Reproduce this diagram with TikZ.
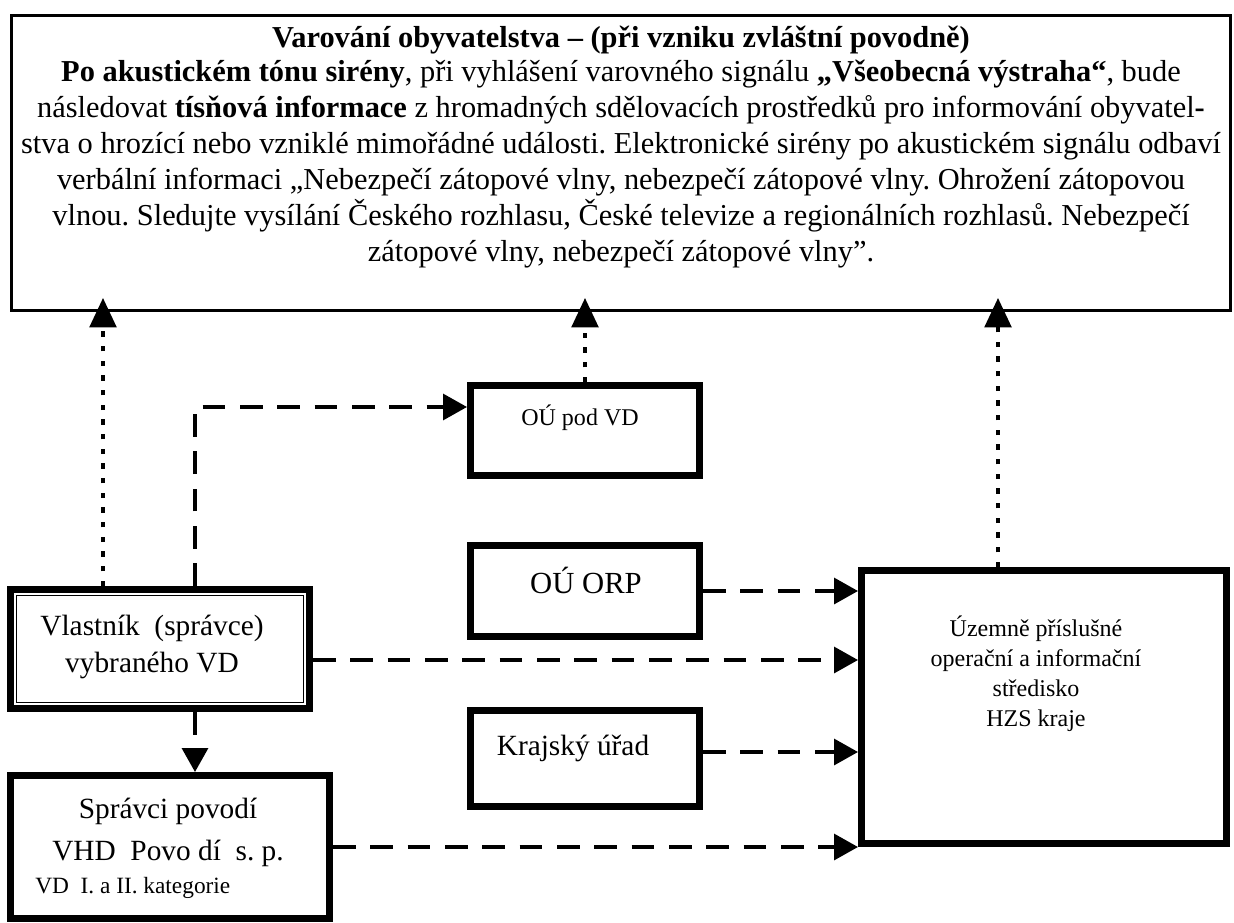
\documentclass[tikz,border=0pt]{standalone}
\usepackage{fontspec}
\setmainfont{Liberation Serif}
\usetikzlibrary{arrows.meta}

\tikzset{
  box/.style={draw, line width=5.25pt, inner sep=0pt},
  txt/.style={inner sep=0pt, align=center, font=\fontsize{22}{28}\selectfont},
  dashline/.style={line width=2.5pt, dash pattern=on 17pt off 11pt, -{Triangle[length=18pt,width=19.5pt]}},
  dotline/.style={line width=2.5pt, dash pattern=on 4pt off 7pt, -{Triangle[length=22pt,width=20pt]}, shorten >=-10.5pt},
}

\begin{document}
\frenchspacing
\begin{tikzpicture}[x=0.75pt,y=0.75pt,yscale=-1,xscale=1]
\useasboundingbox (0,0) rectangle (1234,923);

%Boxes
\node[box, line width=2.25pt, minimum width=914.25pt, minimum height=221.25pt] (top) at (621,163) {};
\node[box, minimum width=224.25pt, minimum height=89.25pt] (vlast) at (160,649) {};
\draw[line width=1.2pt] ([shift={(9.5,9.5)}]vlast.north west) rectangle ([shift={(-9.5,-9.5)}]vlast.south east);
\node[box, minimum width=239.25pt, minimum height=107.25pt] (spravci) at (170,847) {};
\node[box, minimum width=171.75pt, minimum height=67.5pt] (oupod) at (585,430.5) {};
\node[box, minimum width=171.75pt, minimum height=68.25pt] (ouorp) at (585,591) {};
\node[box, minimum width=171.75pt, minimum height=72pt] (kraj) at (585,758.5) {};
\node[box, minimum width=273.75pt, minimum height=204.75pt] (hzs) at (1044,707) {};

% Text Node
\node[txt, anchor=north, font=\fontsize{22.8}{27}\selectfont] (warn) at (621,26) {%
{\bfseries Varování obyvatelstva – (při vzniku zvláštní povodně)}\\[-1.5pt]
{\bfseries Po akustickém tónu sirény}, při vyhlášení varovného signálu {\bfseries „Všeobecná výstraha“}, bude\\
následovat {\bfseries tísňová informace} z hromadných sdělovacích prostředků pro informování obyvatel{\bfseries -}\\
stva o hrozící nebo vzniklé mimořádné události. Elektronické sirény po akustickém signálu odbaví\\
verbální informaci „Nebezpečí zátopové vlny, nebezpečí zátopové vlny. Ohrožení zátopovou\\
vlnou. Sledujte vysílání Českého rozhlasu, České televize a regionálních rozhlasů. Nebezpečí\\
zátopové vlny, nebezpečí zátopové vlny”.};
% Text Node
\node[txt] (vlasttext) at (152,647) {Vlastník~ (správce)\\vybraného VD};
% Text Node
\node[txt, font=\fontsize{22}{31.5}\selectfont] (spravtext) at (168,832) {Správci povodí\\VHD~ Povo dí~ s. p.};
% Text Node
\node[txt, anchor=west, font=\fontsize{17.5}{21}\selectfont] (spravnote) at (35,888) {VD~ I. a II. kategorie};
% Text Node
\node[txt, font=\fontsize{18}{22}\selectfont] (oupodtext) at (580,418) {OÚ pod VD};
% Text Node
\node[txt, font=\fontsize{23}{28}\selectfont] (ouorptext) at (586,580) {OÚ ORP};
% Text Node
\node[txt] (krajtext) at (573,748) {Krajský úřad};
% Text Node
\node[txt, font=\fontsize{18}{22.5}\selectfont] (hzstext) at (1036,674) {Územně příslušné\\operační a informační\\středisko\\HZS kraje};

%Connectors
\coordinate (colA) at (103,0);
\coordinate (colB) at (195,0);
\coordinate (colC) at (998,0);
\coordinate (rowA) at (0,407);
\coordinate (rowB) at (0,660);
\coordinate (rowC) at (0,752);

\draw[dotline] (vlast.north -| colA) -- (top.south -| colA);
\draw[dotline] (oupod.north) -- (oupod.north |- top.south);
\draw[dotline] (hzs.north -| colC) -- (top.south -| colC);

\draw[dashline] (vlast.north -| colB) |- (oupod.west |- rowA);
\draw[dashline] (vlast.south -| colB) -- (spravci.north -| colB);
\draw[dashline] (ouorp.east) -- (ouorp.east -| hzs.west);
\draw[dashline] (vlast.east |- rowB) -- (hzs.west |- rowB);
\draw[dashline] (kraj.east |- rowC) -- (hzs.west |- rowC);
\draw[dashline] (spravci.east) -- (spravci.east -| hzs.west);

\end{tikzpicture}
\end{document}
